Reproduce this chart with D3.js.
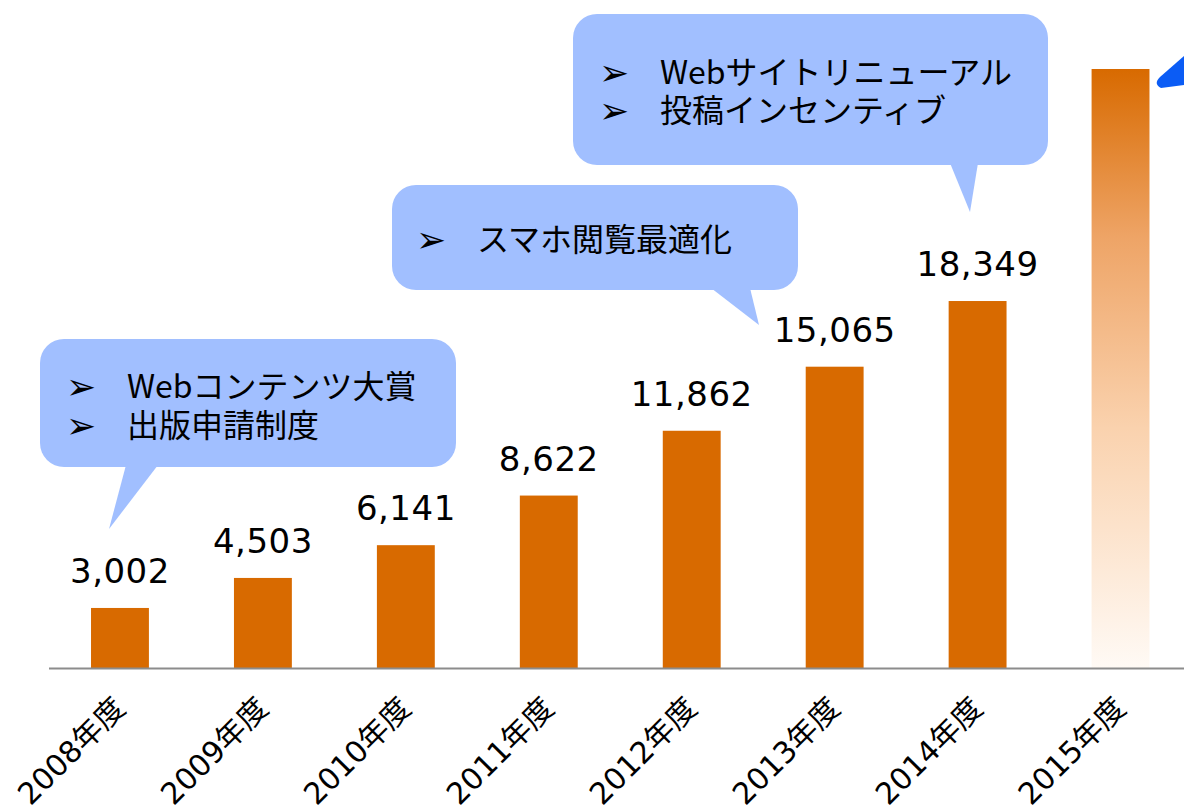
<!DOCTYPE html>
<html>
<head>
<meta charset="utf-8">
<script src="https://cdn.jsdelivr.net/npm/d3@7"></script>
<style>
  body { margin: 0; background: #fff; }
</style>
</head>
<body>
<div id="chart"></div>
<script>
// fiscal years on the x axis
var years = ["2008年度", "2009年度", "2010年度", "2011年度", "2012年度", "2013年度", "2014年度", "2015年度"];
// count per year, 2015 is the projected bar (no label, faded)
var users = [3002, 4503, 6141, 8622, 11862, 15065, 18349, 29950];
var projected = [false, false, false, false, false, false, false, true];

// callout notes and which year they point at
var noteYears = ["2008年度", "2013年度", "2014年度"];
var noteLines = [
    ["Webコンテンツ大賞", "出版申請制度"],
    ["スマホ閲覧最適化"],
    ["Webサイトリニューアル", "投稿インセンティブ"]
];

var svgWidth = 1184;
var svgHeight = 808;

var margin = {
    top: 68,
    right: -8,
    bottom: 140,
    left: 48.5
};

var chartWidth = svgWidth - margin.left - margin.right;
var chartHeight = svgHeight - margin.top - margin.bottom;

var barColor = "#d86a00";
var noteColor = "#a1bfff";
var numFont = "'DejaVu Sans', 'Noto Sans CJK JP', sans-serif";
var jpFont = "'Noto Sans CJK JP', sans-serif";

var svg = d3.select("#chart")
    .append("svg")
    .attr("width", svgWidth)
    .attr("height", svgHeight);

// gradient for the projected bar
var grad = svg.append("defs").append("linearGradient")
    .attr("id", "fade")
    .attr("x1", 0).attr("y1", 0)
    .attr("x2", 0).attr("y2", 1);
grad.append("stop").attr("offset", "0%").attr("stop-color", "#d86a00");
grad.append("stop").attr("offset", "28%").attr("stop-color", "#eea466");
grad.append("stop").attr("offset", "60%").attr("stop-color", "#fad2ae");
grad.append("stop").attr("offset", "100%").attr("stop-color", "#fffaf5");

var chart = svg.append("g").attr("transform", `translate(${margin.left},${margin.top})`);

var xScale = d3.scaleBand()
    .domain(years)
    .range([0, chartWidth])
    .paddingInner(0.595)
    .paddingOuter(0.2975);

var yScale = d3.scaleLinear()
    .domain([0, 30000])
    .range([chartHeight, 0]);

var rows = years.map(function(y, i) {
    return { year: y, value: users[i], projected: projected[i] };
});

// bars
chart.selectAll("rect.bar")
    .data(rows)
    .enter()
    .append("rect")
    .attr("class", "bar")
    .attr("x", function(d) { return xScale(d.year); })
    .attr("y", function(d) { return yScale(d.value); })
    .attr("width", xScale.bandwidth())
    .attr("height", function(d) { return chartHeight - yScale(d.value); })
    .attr("fill", function(d) { return d.projected ? "url(#fade)" : barColor; });

// value labels
chart.selectAll("text.val")
    .data(rows.filter(function(d) { return !d.projected; }))
    .enter()
    .append("text")
    .attr("class", "val")
    .attr("x", function(d) { return xScale(d.year) + xScale.bandwidth() / 2; })
    .attr("y", function(d) { return yScale(d.value) - 25; })
    .style("text-anchor", "middle")
    .style("font-family", numFont)
    .style("font-size", "34px")
    .style("letter-spacing", "0.5px")
    .text(function(d) { return d3.format(",")(d.value); });

// x axis
var bottomAxis = d3.axisBottom(xScale).tickSize(0).tickSizeOuter(0);
var xAxis = chart.append("g")
    .attr("transform", `translate(0, ${chartHeight})`)
    .call(bottomAxis);
xAxis.select(".domain")
    .attr("stroke", "#8c8c8c")
    .attr("stroke-width", 2);
xAxis.selectAll("text")
    .attr("x", 0)
    .attr("y", 0)
    .attr("dy", 0)
    .attr("transform", "translate(7,42) rotate(-45)")
    .style("text-anchor", "end")
    .style("font-family", numFont)
    .style("font-size", "30px")
    .attr("fill", "#000");

// callouts (page coordinates)
var noteBoxes = [
    { x: 40, y: 339, w: 416, h: 128, tail: [126, 158], tip: [109, 529], tx: 87, ty: 59, gap: 39 },
    { x: 392, y: 185, w: 406, h: 105, tail: [711, 750], tip: [759, 325], tx: 85, ty: 66, gap: 39 },
    { x: 573, y: 14, w: 475, h: 151, tail: [950, 978], tip: [970, 212], tx: 87, ty: 70, gap: 38 }
];

var notes = svg.selectAll("g.note")
    .data(noteBoxes)
    .enter()
    .append("g")
    .attr("class", "note");

notes.append("rect")
    .attr("x", function(d) { return d.x; })
    .attr("y", function(d) { return d.y; })
    .attr("width", function(d) { return d.w; })
    .attr("height", function(d) { return d.h; })
    .attr("rx", 24)
    .attr("fill", noteColor);

notes.append("path")
    .attr("d", function(d) {
        var b = d.y + d.h - 2;
        return `M${d.tail[0]},${b} L${d.tip[0]},${d.tip[1]} L${d.tail[1]},${b} Z`;
    })
    .attr("fill", noteColor);

notes.each(function(d, i) {
    var g = d3.select(this);
    noteLines[i].forEach(function(line, j) {
        var by = d.y + d.ty + j * d.gap;
        g.append("text")
            .attr("x", d.x + d.tx - 61)
            .attr("y", by + 1)
            .style("font-family", "'DejaVu Sans', sans-serif")
            .style("font-size", "36px")
            .text("➢");
        g.append("text")
            .attr("x", d.x + d.tx)
            .attr("y", by)
            .style("font-family", jpFont)
            .style("font-size", "32px")
            .text(line);
    });
});

// big blue arrow leaving the frame at the top right
svg.append("path")
    .attr("d", "M1184,56 L1160,77 Q1153,84 1161,88 L1184,85 Z")
    .attr("fill", "#0b5cf5");
</script>
</body>
</html>
